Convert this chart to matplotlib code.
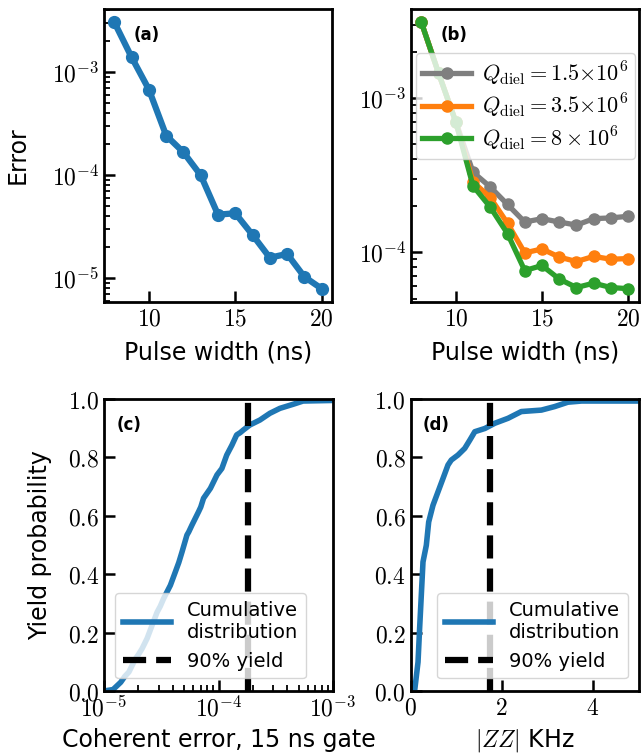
import matplotlib
matplotlib.use("Agg")
import matplotlib.pyplot as plt
from matplotlib.ticker import FuncFormatter, NullFormatter, LogLocator
import numpy as np

plt.rcParams['font.family'] = ['DejaVu Sans']
plt.rcParams['mathtext.fontset'] = 'cm'
plt.rcParams['font.size'] = 15

# ---------------- data ----------------
pulse_width = [8, 9, 10, 11, 12, 13, 14, 15, 16, 17, 18, 19, 20]
error_a = [3.06e-3, 1.4e-3, 6.8e-4, 2.43e-4, 1.67e-4, 1.0e-4, 4.14e-5,
           4.27e-5, 2.63e-5, 1.58e-5, 1.72e-5, 1.03e-5, 7.9e-6]

q_labels = [r'$Q_{\rm diel}{=}1.5{\times}10^6$',
            r'$Q_{\rm diel}{=}3.5{\times}10^6$',
            r'$Q_{\rm diel} = 8 \times 10^6$']
err_q15 = [3.1e-3, 1.45e-3, 7.0e-4, 3.3e-4, 2.65e-4, 2.04e-4, 1.57e-4,
           1.65e-4, 1.57e-4, 1.5e-4, 1.65e-4, 1.67e-4, 1.71e-4]
err_q35 = [3.1e-3, 1.45e-3, 7.0e-4, 2.86e-4, 2.26e-4, 1.54e-4, 9.9e-5,
           1.05e-4, 9.3e-5, 8.7e-5, 9.4e-5, 9.0e-5, 9.1e-5]
err_q8 = [3.1e-3, 1.45e-3, 7.0e-4, 2.69e-4, 1.96e-4, 1.32e-4, 7.6e-5,
          8.2e-5, 6.7e-5, 5.9e-5, 6.3e-5, 5.9e-5, 5.8e-5]
q_colors = ['#7f7f7f', '#ff7f0e', '#2ca02c']

coh_err = [1.0e-5, 1.2e-5, 1.40e-5, 1.52e-5, 1.65e-5, 1.88e-5, 2.0e-5, 2.15e-5,
           2.38e-5, 2.63e-5, 2.91e-5, 3.1e-5, 3.32e-5, 3.80e-5, 4.2e-5, 4.5e-5,
           4.8e-5, 5.3e-5, 5.5e-5, 5.86e-5, 6.7e-5, 7.0e-5, 7.4e-5, 8.5e-5,
           9.7e-5, 1.07e-4, 1.18e-4, 1.31e-4, 1.44e-4, 1.55e-4, 1.65e-4,
           1.88e-4, 2.30e-4, 2.81e-4, 3.44e-4, 4.49e-4, 5.48e-4, 1.0e-3]
coh_cdf = [0.0, 0.005, 0.03, 0.05, 0.065, 0.11, 0.125, 0.145,
           0.18, 0.225, 0.27, 0.29, 0.317, 0.362, 0.408, 0.44,
           0.476, 0.534, 0.545, 0.568, 0.614, 0.63, 0.66, 0.694,
           0.74, 0.762, 0.808, 0.842, 0.877, 0.885, 0.894,
           0.911, 0.928, 0.951, 0.968, 0.982, 0.993, 0.995]
coh_yield90 = 1.8e-4

zz_khz = [0.09, 0.165, 0.20, 0.237, 0.274, 0.347, 0.399, 0.493, 0.603, 0.713,
          0.822, 0.895, 1.04, 1.19, 1.30, 1.41, 1.63, 1.85, 2.14, 2.43, 2.87,
          3.16, 3.45, 3.75, 5.0]
zz_cdf = [0.0, 0.099, 0.214, 0.328, 0.442, 0.499, 0.579, 0.636, 0.682, 0.728,
          0.774, 0.791, 0.808, 0.831, 0.859, 0.888, 0.899, 0.917, 0.934, 0.957,
          0.962, 0.974, 0.989, 0.993, 0.993]
zz_yield90 = 1.74

W, H = 641, 756
fig = plt.figure(figsize=(W / 100, H / 100), dpi=100)

def rect(x0, y0, x1, y1):
    return [x0 / W, 1 - y1 / H, (x1 - x0) / W, (y1 - y0) / H]

ax_a = fig.add_axes(rect(104, 9, 332, 302))
ax_b = fig.add_axes(rect(411, 9, 638.5, 302))
ax_c = fig.add_axes(rect(104, 399, 333, 691))
ax_d = fig.add_axes(rect(410.5, 399, 638.5, 691))

log_fmt = FuncFormatter(lambda v, p: r'$10^{%d}$' % int(round(np.log10(v))) if v > 0 else '')
int_fmt = FuncFormatter(lambda v, p: r'$%d$' % int(round(v)))
dec_fmt = FuncFormatter(lambda v, p: r'$%.1f$' % v)

for ax in (ax_a, ax_b, ax_c, ax_d):
    for s in ax.spines.values():
        s.set_linewidth(2.0)
    ax.tick_params(which='major', direction='in', length=8, width=1.8, labelsize=17)
    ax.tick_params(which='minor', direction='in', length=4.5, width=1.3)

lw = 4.5
ms = 8.5
ax_a.plot(pulse_width, error_a, '-o', color='#1f77b4', lw=lw, ms=ms)
ax_a.set_yscale('log')
ax_a.set_xticks([10, 15, 20])
ax_a.xaxis.set_major_formatter(int_fmt)
ax_a.yaxis.set_major_formatter(log_fmt)
ax_a.yaxis.set_minor_formatter(NullFormatter())
ax_a.set_xlabel('Pulse width (ns)', fontsize=17, labelpad=7)
ax_a.set_ylabel('Error', fontsize=17, labelpad=16)
ax_a.text(0.13, 0.91, '(a)', transform=ax_a.transAxes, fontweight='bold',
          fontsize=12, va='center', ha='left')

for vals, lab, col in zip([err_q15, err_q35, err_q8], q_labels, q_colors):
    ax_b.plot(pulse_width, vals, '-o', color=col, lw=3.8, ms=8, label=lab)
ax_b.set_yscale('log')
ax_b.set_xticks([10, 15, 20])
ax_b.xaxis.set_major_formatter(int_fmt)
ax_b.yaxis.set_major_formatter(log_fmt)
ax_b.yaxis.set_minor_formatter(NullFormatter())
ax_b.set_xlabel('Pulse width (ns)', fontsize=17, labelpad=7)
ax_b.text(0.13, 0.91, '(b)', transform=ax_b.transAxes, fontweight='bold',
          fontsize=12, va='center', ha='left')
ax_b.legend(loc='upper right', bbox_to_anchor=(0.985, 0.85), borderaxespad=0,
            fontsize=16, handlelength=2.2, labelspacing=0.2, handletextpad=0.5,
            borderpad=0.3)

ax_c.plot(coh_err, coh_cdf, color='#1f77b4', lw=4, label='Cumulative\ndistribution')
ax_c.axvline(coh_yield90, color='k', ls='--', lw=4.5, label='90% yield')
ax_c.set_xscale('log')
ax_c.set_xlim(1e-5, 1e-3)
ax_c.set_ylim(0, 1)
ax_c.set_yticks([0, 0.2, 0.4, 0.6, 0.8, 1.0])
ax_c.xaxis.set_major_locator(LogLocator(base=10))
ax_c.xaxis.set_major_formatter(log_fmt)
ax_c.xaxis.set_minor_formatter(NullFormatter())
ax_c.yaxis.set_major_formatter(dec_fmt)
ax_c.set_xlabel('Coherent error, 15 ns gate', fontsize=17, labelpad=5)
ax_c.set_ylabel('Yield probability', fontsize=17, labelpad=11)
ax_c.text(0.055, 0.91, '(c)', transform=ax_c.transAxes, fontweight='bold',
          fontsize=12, va='center', ha='left')
ax_c.legend(loc='lower left', bbox_to_anchor=(0.048, 0.043), borderaxespad=0,
            fontsize=14, handlelength=2.5, labelspacing=0.5)

ax_d.plot(zz_khz, zz_cdf, color='#1f77b4', lw=4, label='Cumulative\ndistribution')
ax_d.axvline(zz_yield90, color='k', ls='--', lw=4.5, label='90% yield')
ax_d.set_xlim(0, 5)
ax_d.set_ylim(0, 1)
ax_d.set_xticks([0, 2, 4])
ax_d.set_yticks([0, 0.2, 0.4, 0.6, 0.8, 1.0])
ax_d.xaxis.set_major_formatter(int_fmt)
ax_d.yaxis.set_major_formatter(dec_fmt)
ax_d.set_xlabel(r'$|ZZ|$ KHz', fontsize=17, labelpad=5)
ax_d.text(0.055, 0.91, '(d)', transform=ax_d.transAxes, fontweight='bold',
          fontsize=12, va='center', ha='left')
ax_d.legend(loc='lower right', bbox_to_anchor=(0.954, 0.043), borderaxespad=0,
            fontsize=14, handlelength=2.5, labelspacing=0.5)

fig.savefig('out.png', dpi=100)
